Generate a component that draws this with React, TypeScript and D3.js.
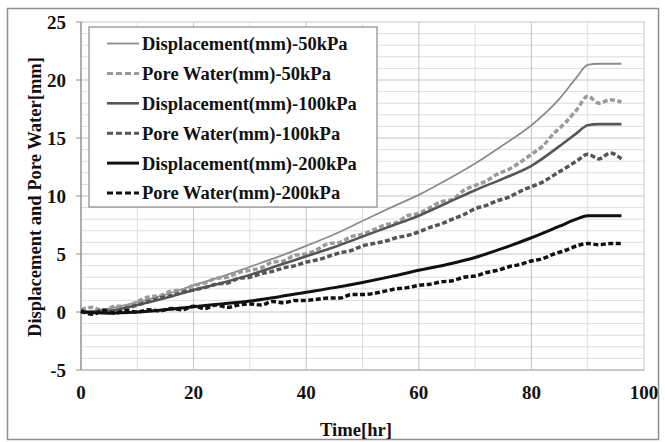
import React from "react";
import * as d3 from "d3";

// ---- Data ----
const dispTime = [0, 5, 10, 15, 20, 25, 30, 35, 40, 45, 50, 55, 60, 65, 70, 75, 80, 85, 88, 90, 92, 96];
const disp50 = [0, 0.3, 0.85, 1.5, 2.3, 3.05, 3.9, 4.75, 5.7, 6.7, 7.85, 9.0, 10.1, 11.4, 12.8, 14.4, 16.1, 18.4, 20.2, 21.3, 21.4, 21.4];
const disp100 = [0, 0.1, 0.6, 1.2, 1.9, 2.5, 3.2, 4.0, 4.8, 5.6, 6.5, 7.4, 8.3, 9.4, 10.5, 11.5, 12.6, 14.3, 15.4, 16.1, 16.2, 16.2];
const disp200 = [0, -0.1, 0.0, 0.2, 0.45, 0.7, 0.95, 1.3, 1.7, 2.1, 2.55, 3.05, 3.6, 4.1, 4.7, 5.5, 6.4, 7.4, 8.0, 8.3, 8.3, 8.3];

const poreTime = [0, 2, 4, 6, 8, 10, 12, 14, 16, 18, 20, 22, 24, 26, 28, 30, 32, 34, 36, 38, 40, 42, 44, 46, 48, 50, 52, 54, 56, 58, 60, 62, 64, 66, 68, 70, 72, 74, 76, 78, 80, 82, 84, 86, 88, 90, 92, 94, 96];
const pore50 = [0.2, 0.4, 0.1, 0.5, 0.5, 0.9, 1.3, 1.4, 1.8, 1.9, 2.3, 2.5, 2.9, 3.0, 3.4, 3.6, 3.8, 4.3, 4.4, 4.9, 5.0, 5.4, 5.9, 6.0, 6.5, 6.7, 7.1, 7.5, 7.7, 8.3, 8.5, 9.0, 9.5, 9.7, 10.5, 10.9, 11.3, 11.9, 12.3, 12.9, 13.6, 14.3, 15.4, 16.3, 17.4, 18.6, 18.0, 18.3, 18.1];
const pore100 = [0.1, -0.1, 0.2, 0.0, 0.3, 0.6, 0.9, 1.2, 1.4, 1.7, 1.9, 2.1, 2.4, 2.5, 2.9, 3.0, 3.3, 3.5, 3.8, 4.0, 4.3, 4.5, 4.8, 5.1, 5.3, 5.7, 5.9, 6.1, 6.4, 6.6, 6.9, 7.3, 7.6, 8.0, 8.4, 8.9, 9.2, 9.6, 9.9, 10.4, 10.8, 11.2, 11.8, 12.4, 13.0, 13.6, 13.2, 13.7, 13.2];
const pore200 = [0.1, -0.2, 0.1, -0.1, 0.1, 0.0, 0.2, 0.1, 0.3, 0.2, 0.5, 0.3, 0.6, 0.4, 0.6, 0.7, 0.6, 0.9, 0.8, 1.0, 1.0, 1.1, 1.2, 1.2, 1.5, 1.5, 1.6, 1.8, 2.0, 2.1, 2.3, 2.4, 2.6, 2.7, 3.0, 3.1, 3.4, 3.6, 3.9, 4.1, 4.4, 4.6, 5.0, 5.3, 5.7, 5.9, 5.8, 5.9, 5.9];

const xTicks = [0, 20, 40, 60, 80, 100];
const yTicks = [-5, 0, 5, 10, 15, 20, 25];

const seriesNames = [
  "Displacement(mm)-50kPa",
  "Pore Water(mm)-50kPa",
  "Displacement(mm)-100kPa",
  "Pore Water(mm)-100kPa",
  "Displacement(mm)-200kPa",
  "Pore Water(mm)-200kPa",
];

const FONT = "'Liberation Serif', 'Times New Roman', serif";

export default function App() {
  const x = d3.scaleLinear().domain([0, 100]).range([81, 644]);
  const y = d3.scaleLinear().domain([-5, 25]).range([370, 22]);

  const series = [
    { name: seriesNames[0], t: dispTime, v: disp50, color: "#8c8c8c", width: 1.8, dash: null },
    { name: seriesNames[1], t: poreTime, v: pore50, color: "#9a9a9a", width: 3.5, dash: "5,2.5" },
    { name: seriesNames[2], t: dispTime, v: disp100, color: "#565656", width: 2.6, dash: null },
    { name: seriesNames[3], t: poreTime, v: pore100, color: "#555555", width: 3.5, dash: "5,2.5" },
    { name: seriesNames[4], t: dispTime, v: disp200, color: "#111111", width: 3, dash: null },
    { name: seriesNames[5], t: poreTime, v: pore200, color: "#111111", width: 3.5, dash: "5,2.5" },
  ];

  const line = d3
    .line<[number, number]>()
    .x((d) => x(d[0]))
    .y((d) => y(d[1]))
    .curve(d3.curveMonotoneX);

  const minorX = d3.range(0, 101, 10);
  const minorY = d3.range(-5, 26, 1);

  const legendX = 89;
  const legendY = 27;
  const rowH = 29.9;

  return (
    <svg
      width={665}
      height={442}
      style={{ position: "absolute", left: 0, top: 0, background: "#fff" }}
      fontFamily={FONT}
    >
      <rect x={0} y={0} width={665} height={442} fill="#fff" />
      <rect x={7.5} y={8.5} width={651} height={431} fill="none" stroke="#8f8f8f" strokeWidth={1.5} />

      {minorY.map((v) => (
        <line
          key={"gy" + v}
          x1={x(0)}
          x2={x(100)}
          y1={y(v)}
          y2={y(v)}
          stroke={v % 5 === 0 ? "#c4c4c4" : "#dedede"}
          strokeWidth={1}
        />
      ))}
      {minorX.map((v) => (
        <line
          key={"gx" + v}
          x1={x(v)}
          x2={x(v)}
          y1={y(25)}
          y2={y(-5)}
          stroke={v % 20 === 0 ? "#c4c4c4" : "#dedede"}
          strokeWidth={1}
        />
      ))}

      <line x1={x(0)} x2={x(0)} y1={y(25)} y2={y(-5)} stroke="#8a8a8a" strokeWidth={1.2} />
      <line x1={x(0)} x2={x(100)} y1={y(-5)} y2={y(-5)} stroke="#b0b0b0" strokeWidth={1} />
      {yTicks.map((v) => (
        <g key={"yt" + v}>
          <line x1={x(0) - 5} x2={x(0)} y1={y(v)} y2={y(v)} stroke="#8a8a8a" strokeWidth={1} />
          <text x={66} y={y(v)} dy="0.35em" textAnchor="end" fontSize={19} fontWeight="bold" fill="#111">
            {v}
          </text>
        </g>
      ))}
      {xTicks.map((v) => (
        <text key={"xt" + v} x={x(v)} y={399} textAnchor="middle" fontSize={19} fontWeight="bold" fill="#111">
          {v}
        </text>
      ))}

      <text x={356} y={436} textAnchor="middle" fontSize={18.5} fontWeight="bold" fill="#111" textLength={72} lengthAdjust="spacingAndGlyphs">
        Time[hr]
      </text>
      <text
        transform={`translate(41,197) rotate(-90)`}
        textAnchor="middle"
        fontSize={18.5}
        fontWeight="bold"
        fill="#111"
        textLength={280}
        lengthAdjust="spacingAndGlyphs"
      >
        Displacement and Pore Water[mm]
      </text>

      {series.map((s) => (
        <path
          key={s.name}
          d={line(s.t.map((t, i) => [t, s.v[i]] as [number, number])) || ""}
          fill="none"
          stroke={s.color}
          strokeWidth={s.width}
          strokeDasharray={s.dash || undefined}
          strokeLinejoin="round"
        />
      ))}

      <rect x={legendX} y={legendY} width={288} height={180} fill="#fff" stroke="#8a8a8a" strokeWidth={1.2} />
      {series.map((s, i) => {
        const cy = legendY + 16.5 + i * rowH;
        return (
          <g key={"lg" + i}>
            <line
              x1={107}
              x2={139}
              y1={cy}
              y2={cy}
              stroke={s.color}
              strokeWidth={Math.min(s.width, 3)}
              strokeDasharray={s.dash ? "6,3" : undefined}
            />
            <text x={142} y={cy} dy="0.35em" fontSize={18.5} fontWeight="bold" fill="#111">
              {s.name}
            </text>
          </g>
        );
      })}
    </svg>
  );
}
